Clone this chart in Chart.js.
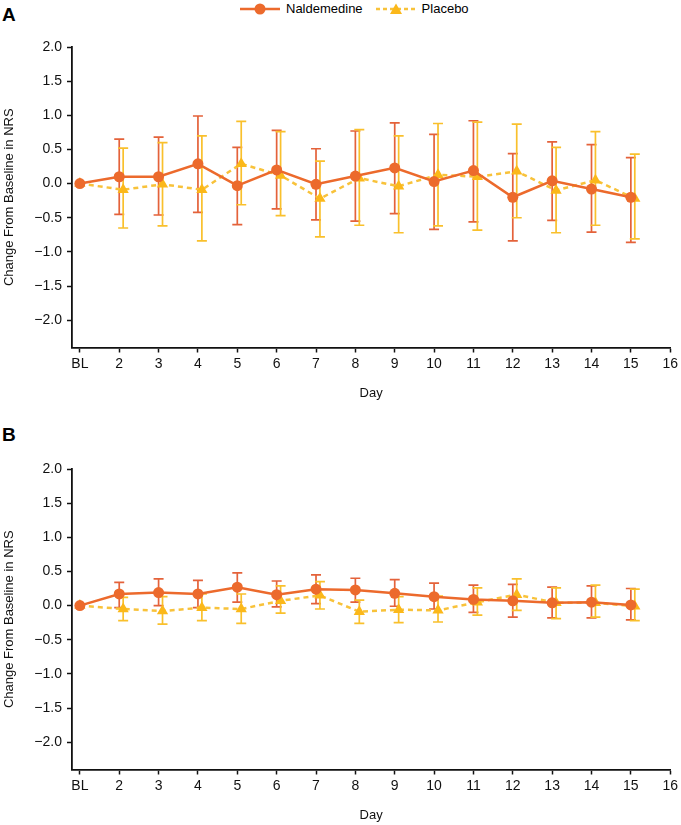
<!DOCTYPE html>
<html lang="en">
<head>
    <meta charset="UTF-8" />
    <title>Change From Baseline in NRS</title>
    <script src="https://cdn.jsdelivr.net/npm/chart.js"></script>
    <style>
        body {
            margin: 0;
            background: #fff;
            font-family: 'Liberation Sans', Arial, sans-serif;
        }
        #page {
            position: relative;
            width: 681px;
            height: 825px;
        }
        .panel {
            position: absolute;
            left: 0;
            width: 681px;
        }
        .tag {
            position: absolute;
            left: 2px;
            font-weight: bold;
            font-size: 19px;
            line-height: 19px;
        }
        #legend {
            position: absolute;
            top: 1px;
            left: 240px;
            font-size: 13px;
            line-height: 16px;
            display: flex;
            align-items: center;
        }
        #legend span { margin-left: 6px; margin-right: 13px; }
    </style>
</head>
<body>
<div id="page">
    <div id="legend">
        <svg width="40" height="14">
            <line x1="0" y1="7" x2="40" y2="7" stroke="#EC6A2C" stroke-width="2.5" />
            <circle cx="20" cy="7" r="5.5" fill="#EC6A2C" />
        </svg>
        <span>Naldemedine</span>
        <svg width="40" height="14">
            <line x1="0" y1="7" x2="40" y2="7" stroke="#F8C23A" stroke-width="2.5" stroke-dasharray="4,3" />
            <polygon points="20,1.5 26,12 14,12" fill="#FBB81A" />
        </svg>
        <span>Placebo</span>
    </div>
    <div class="tag" style="top:5px">A</div>
    <div class="tag" style="top:425px">B</div>
    <div class="panel" style="top:0; height:422px"><canvas id="chartA" width="681" height="422"></canvas></div>
    <div class="panel" style="top:422px; height:403px"><canvas id="chartB" width="681" height="403"></canvas></div>
</div>

<script>
    // days: BL = 1
    const days = [1, 2, 3, 4, 5, 6, 7, 8, 9, 10, 11, 12, 13, 14, 15];
    const xTicks = [1, 2, 3, 4, 5, 6, 7, 8, 9, 10, 11, 12, 13, 14, 15, 16];
    const yTicks = [2.0, 1.5, 1.0, 0.5, 0.0, -0.5, -1.0, -1.5, -2.0];

    // Panel A
    const naldA    = [0, 0.10, 0.10, 0.29, -0.03, 0.20, -0.01, 0.11, 0.23, 0.03, 0.19, -0.20, 0.04, -0.08, -0.20];
    const naldAHi  = [null, 0.65, 0.68, 0.99, 0.53, 0.78, 0.51, 0.77, 0.89, 0.72, 0.92, 0.44, 0.61, 0.57, 0.38];
    const naldALo  = [null, -0.45, -0.46, -0.42, -0.60, -0.37, -0.53, -0.55, -0.44, -0.67, -0.56, -0.84, -0.54, -0.71, -0.86];
    const placA    = [0, -0.09, -0.01, -0.09, 0.29, 0.12, -0.22, 0.08, -0.04, 0.13, 0.10, 0.18, -0.10, 0.05, -0.22];
    const placAHi  = [null, 0.52, 0.60, 0.70, 0.91, 0.76, 0.33, 0.79, 0.70, 0.88, 0.90, 0.87, 0.53, 0.76, 0.43];
    const placALo  = [null, -0.65, -0.62, -0.84, -0.31, -0.47, -0.78, -0.61, -0.72, -0.62, -0.68, -0.50, -0.72, -0.61, -0.81];

    // Panel B
    const naldB    = [0, 0.17, 0.19, 0.17, 0.27, 0.16, 0.24, 0.23, 0.18, 0.13, 0.09, 0.07, 0.04, 0.05, 0.01];
    const naldBHi  = [null, 0.34, 0.39, 0.37, 0.48, 0.36, 0.45, 0.40, 0.38, 0.33, 0.30, 0.31, 0.27, 0.29, 0.25];
    const naldBLo  = [null, -0.03, 0.00, -0.03, 0.05, -0.02, 0.03, 0.05, -0.01, -0.05, -0.10, -0.17, -0.18, -0.18, -0.21];
    const placB    = [0, -0.05, -0.08, -0.03, -0.05, 0.07, 0.15, -0.09, -0.06, -0.07, 0.05, 0.16, 0.04, 0.04, -0.01];
    const placBHi  = [null, 0.12, 0.13, 0.17, 0.17, 0.29, 0.35, 0.08, 0.13, 0.14, 0.26, 0.39, 0.26, 0.30, 0.24];
    const placBLo  = [null, -0.22, -0.27, -0.22, -0.26, -0.11, -0.05, -0.26, -0.25, -0.24, -0.14, -0.07, -0.19, -0.17, -0.22];

    const placeboShift = 0.1;
    const FONT = "'Liberation Sans', Arial, sans-serif";

    const errorBars = {
        id: 'errorBars',
        beforeDatasetsDraw(chart) {
            const { ctx, scales: { x, y } } = chart;
            chart.data.datasets.forEach(ds => {
                ctx.save();
                ctx.strokeStyle = ds.errColor;
                ctx.lineWidth = 1.7;
                ds.data.forEach((p, i) => {
                    const lo = ds.errLo[i], hi = ds.errHi[i];
                    if (lo == null || hi == null) return;
                    const px = x.getPixelForValue(p.x);
                    const y1 = y.getPixelForValue(lo);
                    const y2 = y.getPixelForValue(hi);
                    ctx.beginPath();
                    ctx.moveTo(px, y1); ctx.lineTo(px, y2);
                    ctx.moveTo(px - 5, y1); ctx.lineTo(px + 5, y1);
                    ctx.moveTo(px - 5, y2); ctx.lineTo(px + 5, y2);
                    ctx.stroke();
                });
                ctx.restore();
            });
        }
    };

    function makeChart(id, nald, naldLo, naldHi, plac, placLo, placHi, padBottom) {
        new Chart(document.getElementById(id), {
            type: 'line',
            data: {
                datasets: [{
                    label: 'Naldemedine',
                    data: days.map((d, i) => ({ x: d, y: nald[i] })),
                    errLo: naldLo, errHi: naldHi,
                    errColor: '#E4623A',
                    borderColor: '#EC6A2C',
                    backgroundColor: '#EC6A2C',
                    borderWidth: 2.5,
                    pointStyle: 'circle',
                    pointRadius: 5.5,
                    pointBorderWidth: 0,
                    tension: 0,
                    clip: false
                }, {
                    label: 'Placebo',
                    data: days.map((d, i) => ({ x: d + (i === 0 ? 0 : placeboShift), y: plac[i] })),
                    errLo: placLo, errHi: placHi,
                    errColor: '#F9C02C',
                    borderColor: '#F8C23A',
                    backgroundColor: '#FBB81A',
                    borderWidth: 2.5,
                    borderDash: [5, 4],
                    pointStyle: 'triangle',
                    pointRadius: 6.5,
                    pointBorderWidth: 0,
                    tension: 0,
                    clip: false
                }]
            },
            options: {
                responsive: false,
                animation: false,
                devicePixelRatio: 1,
                layout: { padding: { top: 47, right: 9, left: 0, bottom: padBottom } },
                plugins: {
                    legend: { display: false },
                    tooltip: { enabled: false }
                },
                scales: {
                    x: {
                        type: 'linear',
                        min: 0.8,
                        max: 16,
                        afterFit(scale) { scale.height = 54; },
                        afterBuildTicks(scale) {
                            scale.ticks = xTicks.map(v => ({ value: v }));
                        },
                        ticks: {
                            padding: 3,
                            color: '#111',
                            font: { family: FONT, size: 14 },
                            callback: v => (v === 1 ? 'BL' : String(v))
                        },
                        grid: { display: true, drawOnChartArea: false, drawTicks: true, tickLength: 5, tickWidth: 1.5, color: '#111' },
                        border: { display: true, color: '#111', width: 1.8 },
                        title: { display: true, text: 'Day', color: '#111', padding: 0, font: { family: FONT, size: 13 } }
                    },
                    y: {
                        min: -2.4,
                        max: 2.0,
                        afterFit(scale) { scale.width = 72; },
                        afterBuildTicks(scale) {
                            scale.ticks = yTicks.map(v => ({ value: v }));
                        },
                        ticks: {
                            padding: 5,
                            color: '#111',
                            font: { family: FONT, size: 14 },
                            callback: v => v.toFixed(1).replace('-', '\u2212')
                        },
                        grid: { display: true, drawOnChartArea: false, drawTicks: true, tickLength: 5, tickWidth: 1.5, color: '#111' },
                        border: { display: true, color: '#111', width: 1.8 },
                        title: { display: true, text: 'Change From Baseline in NRS', color: '#111', padding: { top: 2, bottom: 0 }, font: { family: FONT, size: 13 } }
                    }
                }
            },
            plugins: [errorBars]
        });
    }

    makeChart('chartA', naldA, naldALo, naldAHi, placA, placALo, placAHi, 20.5);
    makeChart('chartB', naldB, naldBLo, naldBHi, placB, placBLo, placBHi, 1.5);
</script>
</body>
</html>
